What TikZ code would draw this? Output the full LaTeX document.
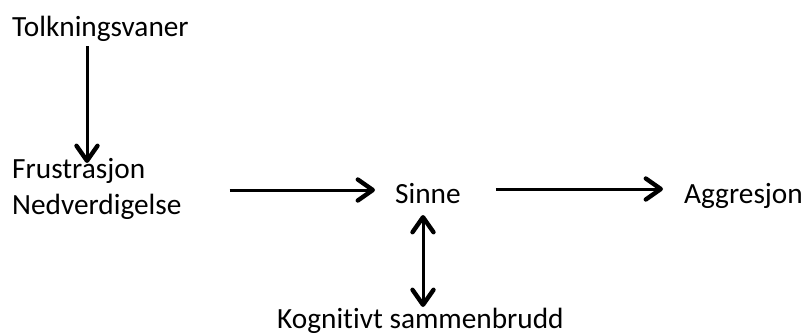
\documentclass[tikz,border=0pt]{standalone}
\usepackage{fontspec}
\setmainfont[Ligatures=NoCommon]{Carlito}
\usetikzlibrary{arrows.meta,calc}
\begin{document}
\begin{tikzpicture}[x=1pt,y=1pt,
  lbl/.style={inner sep=0pt,anchor=base west,font=\fontsize{29.3}{35}\selectfont},
  tip/.tip={Straight Barb[length=15pt,width=21pt,line width=4.4pt,round]},
  arr/.style={line width=3pt,-tip},
  dblarr/.style={line width=3pt,tip-tip}]
  \useasboundingbox (0,0) rectangle (803,333);
  % labels
  \node[lbl] (tolk)  at (12,297) {Tolkningsvaner};
  \node[lbl] (frus)  at (12,155) {Frustrasjon};
  \node[lbl] (ned)   at (12,119) {Nedverdigelse};
  \node[lbl] (sinne) at (395,130) {Sinne};
  \node[lbl] (aggr)  at (684,130) {Aggresjon};
  \node[lbl] (kog)   at (277,5) {Kognitivt sammenbrudd};
  % connectors
  \draw[arr] ($(tolk.base west)+(75,-10)$) -- ($(frus.base west)+(75,15)$);
  \draw[arr] ($(ned.base east)+(48,24)$) -- ($(sinne.base west)+(-20,13)$);
  \draw[arr] ($(sinne.base east)+(35,14)$) -- ($(aggr.base west)+(-21,14)$);
  \draw[dblarr] ($(sinne.base west)+(28,-12)$) -- ($(kog.base west)+(146,21)$);
\end{tikzpicture}
\end{document}
